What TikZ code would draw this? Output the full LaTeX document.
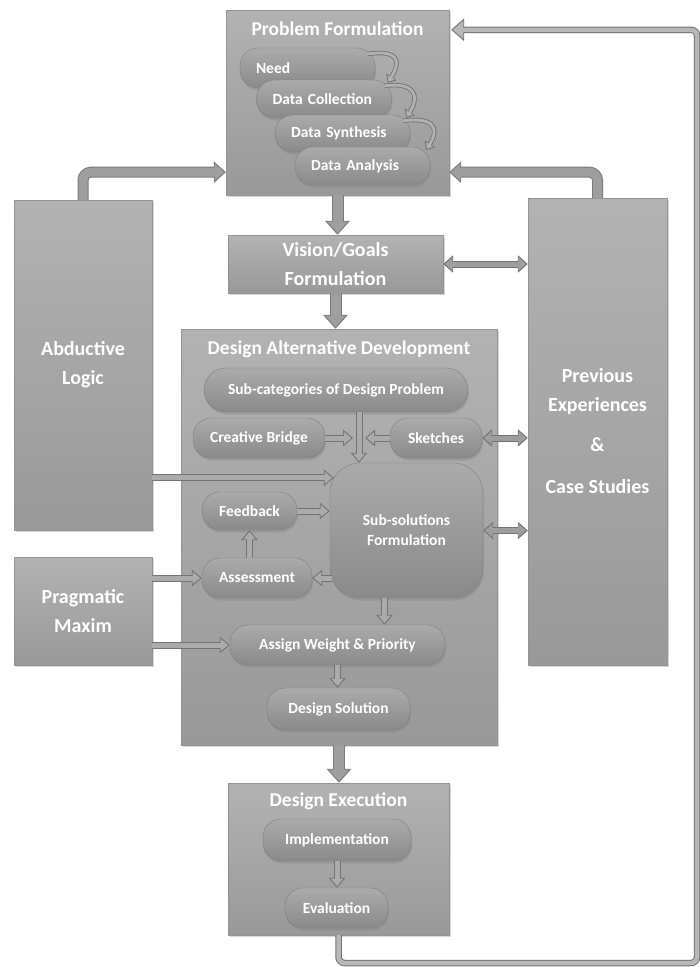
\documentclass[tikz,border=0pt]{standalone}
\usepackage{fontspec}
\setmainfont{Carlito}
\usetikzlibrary{arrows.meta,shadows}

\tikzset{
	panel/.style={draw=black!42, top color=black!30, bottom color=black!40, drop shadow={shadow xshift=2pt, shadow yshift=-2pt, opacity=0.3}, inner sep=0pt, text=white, align=center, font=\bfseries\fontsize{20}{29}\selectfont},
	pill/.style={draw=black!50, top color=black!33, bottom color=black!46, rounded corners=18pt, drop shadow={shadow xshift=1pt, shadow yshift=-2.5pt, opacity=0.35}, inner sep=0pt, minimum height=40pt, text=white, align=center, font=\bfseries\fontsize{15.5}{20}\selectfont},
	pfpill/.style={pill, align=left, text width=103pt, inner xsep=16pt},
	ttl/.style={text=white, inner sep=0pt, font=\bfseries\fontsize{19.5}{22}\selectfont},
	bigarrow/.style={line width=12pt, draw=black!52, -{Triangle[length=14pt,width=24pt]}, postaction={draw=black!38, line width=10pt, -{Triangle[length=11.5pt,width=19.5pt]}, shorten >=1.6pt}},
	elbow/.style={rounded corners=8pt, line width=11pt, draw=black!52, -{Triangle[length=12pt,width=21pt]}, postaction={draw=black!38, line width=9pt, -{Triangle[length=9.5pt,width=16.5pt]}, shorten >=1.6pt}},
	fbline/.style={rounded corners=6pt, line width=6.5pt, draw=black!55, -{Triangle[length=13pt,width=22pt]}, postaction={draw=black!28, line width=4.5pt, -{Triangle[length=10.5pt,width=17.5pt]}, shorten >=1.6pt}},
	twoway/.style={line width=7pt, draw=black!55, {Triangle[length=10pt,width=17pt]}-{Triangle[length=10pt,width=17pt]}, postaction={draw=black!38, line width=5pt, {Triangle[length=7.8pt,width=13pt]}-{Triangle[length=7.8pt,width=13pt]}, shorten <=1.6pt, shorten >=1.6pt}},
	hollow/.style={line width=7pt, draw=black!55, -{Triangle[length=10pt,width=16pt]}, postaction={draw=black!33, line width=5pt, -{Triangle[length=7.6pt,width=12pt]}, shorten >=1.6pt}},
	curl/.style={line width=4.5pt, draw=black!55, -{Triangle[length=7pt,width=12pt]}, postaction={draw=black!30, line width=2.8pt, -{Triangle[length=5pt,width=8pt]}, shorten >=1.3pt}}
}

\begin{document}
\begin{tikzpicture}[x=1pt,y=1pt]
	\useasboundingbox[fill=white] (0,0) rectangle (700,-967);

	\node[panel, minimum width=223pt, minimum height=185pt] (pf) at (337.5,-102.5) {};
	\node[ttl] (pft) at ([yshift=-19pt]pf.north) {Problem Formulation};
	\node[pfpill, minimum height=40pt] (need) at (307.5,-68) {Need};
	\node[pfpill, minimum height=38pt] (dcol) at (324,-99) {Data Collection};
	\node[pfpill, minimum height=37pt] (dsyn) at (342.5,-133.5) {Data Synthesis};
	\node[pfpill, minimum height=38pt] (dana) at (362.5,-166) {Data Analysis};
	\draw[curl] ([xshift=-7pt,yshift=-6pt]need.north east) .. controls +(30pt,4pt) and +(14pt,22pt) .. ([xshift=-4pt,yshift=-3pt]dcol.north east);
	\draw[curl] ([xshift=-7pt,yshift=-6pt]dcol.north east) .. controls +(30pt,4pt) and +(14pt,22pt) .. ([xshift=-4pt,yshift=-3pt]dsyn.north east);
	\draw[curl] ([xshift=-7pt,yshift=-6pt]dsyn.north east) .. controls +(30pt,4pt) and +(14pt,22pt) .. ([xshift=-4pt,yshift=-3pt]dana.north east);

	\node[panel, minimum width=215pt, minimum height=58pt] (vis) at (335.5,-264) {Vision/Goals\\Formulation};

	\node[panel, minimum width=316pt, minimum height=416pt] (dad) at (339,-537) {};
	\node[ttl] (dadt) at ([yshift=-20pt]dad.north) {Design Alternative Development};
	\node[pill, minimum width=264pt, minimum height=44pt, rounded corners=22pt] (sub) at (336,-390) {Sub-categories of Design Problem};
	\node[pill, minimum width=132pt] (cb) at (259,-438) {Creative Bridge};
	\node[pill, minimum width=92pt] (sk) at (436,-438) {Sketches};
	\node[pill, minimum width=153pt, minimum height=135pt, rounded corners=30pt] (ss) at (406.5,-530.5) {Sub-solutions\\Formulation};
	\node[pill, minimum width=95pt, minimum height=38pt] (fb) at (249.5,-511) {Feedback};
	\node[pill, minimum width=110pt] (as) at (257,-578) {Assessment};
	\node[pill, minimum width=215pt] (aw) at (337.5,-645) {Assign Weight \& Priority};
	\node[pill, minimum width=143pt, minimum height=42pt] (ds) at (338.5,-709) {Design Solution};

	\node[panel, minimum width=221pt, minimum height=152pt] (de) at (338.5,-859) {};
	\node[ttl] (det) at ([yshift=-18pt]de.north) {Design Execution};
	\node[pill, minimum width=148pt, minimum height=42pt] (imp) at (337,-840) {Implementation};
	\node[pill, minimum width=103pt] (ev) at (336.5,-908) {Evaluation};

	\node[panel, minimum width=138pt, minimum height=330pt] (abd) at (83,-365) {Abductive\\Logic};
	\node[panel, minimum width=138pt, minimum height=108pt] (prag) at (83,-611) {Pragmatic\\Maxim};
	\node[panel, minimum width=139pt, minimum height=467pt] (prev) at (597.5,-431.5) {Previous\\Experiences\\[11pt]\&\\[13pt]Case Studies};

	\draw[bigarrow] (pf.south) -- (pf.south |- vis.north);
	\draw[bigarrow] (vis.south) -- (vis.south |- dad.north);
	\draw[bigarrow] (dad.south) -- (dad.south |- de.north);
	\draw[elbow] (abd.north) |- ([yshift=23pt]pf.south west);
	\draw[elbow] (prev.north) |- ([yshift=23pt]pf.south east);
	\coordinate (corner) at (697,-963);
	\draw[fbline] (de.south) |- (corner) |- ([xshift=2pt,yshift=-20pt]pf.north east);

	\draw[twoway] (vis.east) -- (vis.east -| prev.west);
	\draw[twoway] (sk.east) -- (sk.east -| prev.west);
	\draw[twoway] (ss.east) -- (ss.east -| prev.west);

	\coordinate (jn) at (359,-438);
	\coordinate (ab) at ([xshift=4pt,yshift=-15pt]ss.north west);
	\draw[hollow] (cb.east) -- ([xshift=-6pt]jn);
	\draw[hollow] (sk.west) -- ([xshift=6pt]jn);
	\draw[hollow] (sub.south -| jn) -- (ss.north -| jn);
	\draw[hollow] (abd.east |- ab) -- (ab);
	\draw[hollow] (fb.east) -- (fb.east -| ss.west);
	\draw[hollow] ([xshift=2pt]as.east -| ss.west) -- (as.east);
	\draw[hollow] (as.north -| fb.south) -- (fb.south);
	\draw[hollow] (prag.east |- as.west) -- (as.west);
	\draw[hollow] (prag.east |- aw.west) -- (aw.west);
	\draw[hollow] ([xshift=-22pt]ss.south) -- ([xshift=-22pt]ss.south |- aw.north);
	\draw[hollow] (aw.south) -- (aw.south |- ds.north);
	\draw[hollow] (imp.south) -- (imp.south |- ev.north);
\end{tikzpicture}
\end{document}
